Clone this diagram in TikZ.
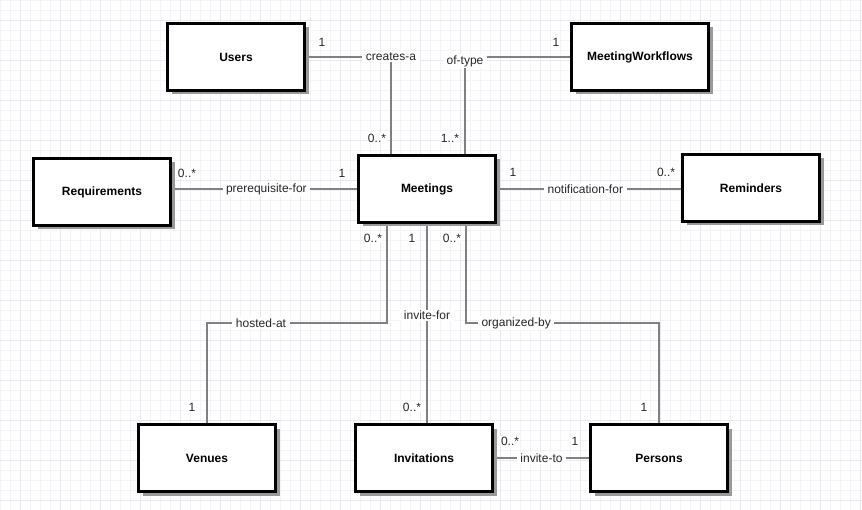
\documentclass[tikz,border=0pt]{standalone}
\usepackage{fontspec}
\setmainfont{Liberation Sans}
\usetikzlibrary{calc,shadows}
\definecolor{gridminor}{RGB}{243,243,250}
\definecolor{gridmajor}{RGB}{232,232,243}
\definecolor{linegrey}{RGB}{128,128,128}
\begin{document}
\begin{tikzpicture}[x=1pt,y=-1pt,
  entity/.style={draw=black,line width=3pt,fill=white,minimum width=137pt,minimum height=67pt,
    inner sep=0pt,font=\bfseries\fontsize{12}{14}\selectfont,
    drop shadow={shadow xshift=4pt,shadow yshift=-4pt,fill=black!40,opacity=1}},
  conn/.style={draw=linegrey,line width=2pt},
  rel/.style={fill=white,inner xsep=3.5pt,inner ysep=1.5pt,font=\fontsize{12}{14}\selectfont,text=black!85},
  mult/.style={fill=white,inner sep=1pt,font=\fontsize{12}{14}\selectfont,text=black!85}]
\useasboundingbox (0,0) rectangle (862,510);
% background grid
\fill[white] (0,0) rectangle (862,510);
\foreach \i in {0,10,...,860} \draw[gridminor,line width=0.8pt] (\i,0) -- (\i,510);
\foreach \j in {0,10,...,510} \draw[gridminor,line width=0.8pt] (0,\j) -- (862,\j);
\foreach \i in {20,60,...,860} \draw[gridmajor,line width=0.8pt] (\i,0) -- (\i,510);
\foreach \j in {20,60,...,510} \draw[gridmajor,line width=0.8pt] (0,\j) -- (862,\j);

% entities
\node[entity] (users)   at (236,57)  {Users};
\node[entity] (flows)   at (640,57)  {MeetingWorkflows};
\node[entity] (req)     at (102,192) {Requirements};
\node[entity] (meet)    at (427,189) {Meetings};
\node[entity] (rem)     at (751,188) {Reminders};
\node[entity] (venues)  at (207,458) {Venues};
\node[entity] (inv)     at (424,458) {Invitations};
\node[entity] (persons) at (659,458) {Persons};

% attachment points on Meetings
\coordinate (mt1) at ($(meet.north)+(-36,0)$);
\coordinate (mt2) at ($(meet.north)+(38,0)$);
\coordinate (mb1) at ($(meet.south)+(-40,0)$);
\coordinate (mb3) at ($(meet.south)+(39,0)$);

% relationships
\draw[conn] (users.east) -| node[rel]{creates-a} (mt1);
\draw[conn] (flows.west) -| node[rel,yshift=-4pt]{of-type} (mt2);
\draw[conn] (meet.west) -- node[rel,pos=0.49]{prerequisite-for} (meet.west -| req.east);
\draw[conn] (meet.east) -- node[rel,pos=0.48]{notification-for} (meet.east -| rem.west);
\draw[conn] (mb1) -- ($(mb1)+(0,99)$) -| node[rel,pos=0.35]{hosted-at} (venues.north);
\draw[conn] (meet.south) -- node[rel,pos=0.46]{invite-for} (meet.south |- inv.north);
\draw[conn] (mb3) -- ($(mb3)+(0,99)$) -| node[rel,pos=0.13]{organized-by} (persons.north);
\draw[conn] (inv.east) -- node[rel]{invite-to} (inv.east -| persons.west);

% multiplicities
\node[mult] (m1)  at (322,42)  {1};
\node[mult] (m2)  at (377,138) {0..*};
\node[mult] (m3)  at (556,42)  {1};
\node[mult] (m4)  at (450,138) {1..*};
\node[mult] (m5)  at (187,173) {0..*};
\node[mult] (m6)  at (342,173) {1};
\node[mult] (m7)  at (513,172) {1};
\node[mult] (m8)  at (666,172) {0..*};
\node[mult] (m9)  at (373,238) {0..*};
\node[mult] (m10) at (412,238) {1};
\node[mult] (m11) at (452,238) {0..*};
\node[mult] (m12) at (192,407) {1};
\node[mult] (m13) at (412,407) {0..*};
\node[mult] (m14) at (644,407) {1};
\node[mult] (m15) at (510,441) {0..*};
\node[mult] (m16) at (575,441) {1};

% redraw entities over the connector ends
\foreach \n/\t in {users/Users,flows/MeetingWorkflows,req/Requirements,meet/Meetings,rem/Reminders,venues/Venues,inv/Invitations,persons/Persons}
  \node[entity] at (\n) {\t};
\end{tikzpicture}
\end{document}
